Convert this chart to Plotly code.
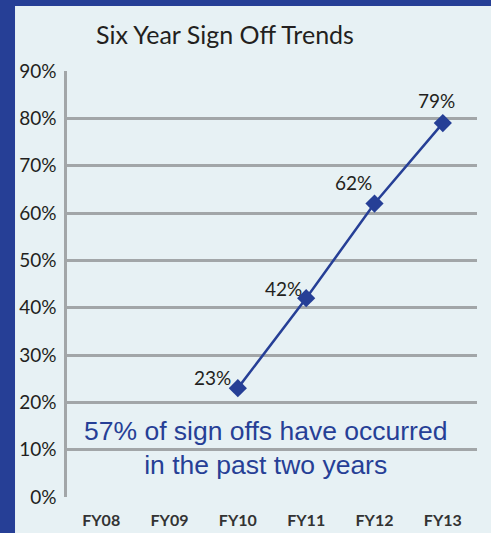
import plotly.graph_objects as go

# Fiscal years on the category axis
years = ["FY08", "FY09", "FY10", "FY11", "FY12", "FY13"]
# Cumulative share of sign offs (percent); no data before FY10
signoff_pct = [None, None, 23, 42, 62, 79]
y_ticks = [0, 10, 20, 30, 40, 50, 60, 70, 80, 90]

# Label offsets (pixels) for the point value labels
label_dx = [0, 0, -25, -23, -21, -6]
label_dy = [0, 0, 11, 10, 21, 23]

BLUE = "#263f96"
PANEL = "#e7f1f4"
GRID = "#a2a6a8"
TEXT = "#231f20"
FONT = "Lato"

fig = go.Figure()
fig.add_trace(go.Scatter(
    x=years, y=signoff_pct, mode="lines+markers",
    line=dict(color=BLUE, width=2.5),
    marker=dict(symbol="diamond", size=14, color=BLUE),
    connectgaps=False, hoverinfo="skip", showlegend=False,
))

for yr, v, dx, dy in zip(years, signoff_pct, label_dx, label_dy):
    if v is None:
        continue
    fig.add_annotation(
        x=yr, y=v, text=f"{v}%", showarrow=False,
        xshift=dx, yshift=dy,
        font=dict(family=FONT, size=19, color=TEXT),
    )

# Chart title
fig.add_annotation(
    xref="paper", yref="paper", x=0.385, y=1.088,
    xanchor="center", yanchor="middle",
    text="Six Year Sign Off Trends", showarrow=False,
    font=dict(family=FONT, size=25, color=TEXT),
)

# Callout text inside the plot
fig.add_annotation(
    xref="paper", yref="paper", x=0.483, y=0.115,
    xanchor="center", yanchor="middle",
    text="57% of sign offs have occurred<br>in the past two years",
    showarrow=False, align="center",
    font=dict(family="Liberation Sans, Arial", size=26.5, color=BLUE),
)

# Blue frame along the left and top edges
fig.add_shape(type="rect", xref="paper", yref="paper",
              x0=-0.3, x1=-0.1268, y0=-0.3, y1=1.4,
              fillcolor=BLUE, line=dict(width=0), layer="below")
fig.add_shape(type="rect", xref="paper", yref="paper",
              x0=-0.3, x1=1.3, y0=1.1526, y1=1.4,
              fillcolor=BLUE, line=dict(width=0), layer="below")

fig.update_xaxes(
    type="category", categoryorder="array", categoryarray=years,
    range=[-0.5, 5.5], showgrid=False, zeroline=False, showline=False,
    ticks="", ticklabelstandoff=12, automargin=False,
    tickfont=dict(family=FONT, size=16, color="#333333", weight="bold"),
)
fig.update_yaxes(
    range=[0, 90], tickvals=y_ticks, ticktext=[f"{t}%" for t in y_ticks],
    showgrid=True, gridcolor=GRID, gridwidth=2.5,
    zeroline=False, showline=True, linecolor=GRID, linewidth=2.5,
    ticks="", ticklabelstandoff=4, automargin=False,
    tickfont=dict(family=FONT, size=19, color=TEXT),
)

fig.update_layout(
    width=491, height=533,
    margin=dict(l=67, r=14, t=71, b=36),
    paper_bgcolor=PANEL, plot_bgcolor=PANEL,
)

fig.write_html("out.html")
